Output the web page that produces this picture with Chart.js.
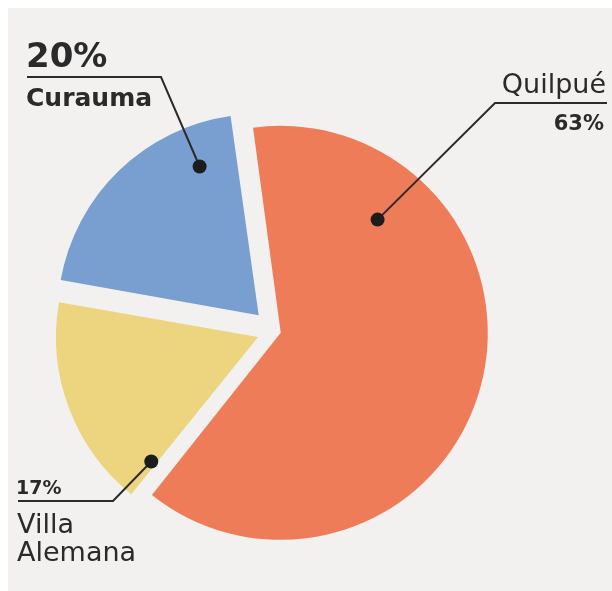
<!DOCTYPE html>
<html>
<head>
<meta charset="utf-8">
<script src="https://cdn.jsdelivr.net/npm/chart.js@4/dist/chart.umd.min.js"></script>
<style>
  html, body { margin: 0; padding: 0; background: #ffffff; }
  #wrap { position: relative; width: 612px; height: 591px; }
</style>
</head>
<body>
<div id="wrap"><canvas id="c" width="612" height="591"></canvas></div>
<script>
// ---- data ----
const categories = ['Quilpué', 'Villa Alemana', 'Curauma'];
const shares = [63, 17, 20];
const shareLabels = ['63%', '17%', '20%'];
const sliceColors = ['#ee7c58', '#ecd57e', '#789fd0'];

// ---- label layout (positions only, not data) ----
const labelLayout = [
  { // Quilpué
    f: 0.214, rf: 0.745,
    line: [[607, 103], [495, 103]],
    texts: [
      { t: categories[0], x: 606, y: 93, align: 'right', font: '27px "DejaVu Sans"' },
      { t: shareLabels[0], x: 604, y: 130, align: 'right', font: 'bold 21px "DejaVu Sans"' }
    ]
  },
  { // Villa Alemana
    f: 0.03, rf: 0.82,
    line: [[18, 501], [113, 501]],
    texts: [
      { t: shareLabels[1], x: 16, y: 494, align: 'left', font: 'bold 19px "DejaVu Sans"' },
      { t: 'Villa', x: 17, y: 533, align: 'left', font: '27px "DejaVu Sans"' },
      { t: 'Alemana', x: 17, y: 561, align: 'left', font: '27px "DejaVu Sans"' }
    ]
  },
  { // Curauma
    f: 0.81, rf: 0.8,
    line: [[27, 77], [161, 77]],
    texts: [
      { t: shareLabels[2], x: 26, y: 67, align: 'left', font: 'bold 34px "DejaVu Sans"' },
      { t: categories[2], x: 26, y: 106, align: 'left', font: 'bold 25px "DejaVu Sans"' }
    ]
  }
];

const panelPlugin = {
  id: 'panel',
  beforeDraw(chart) {
    const ctx = chart.ctx;
    ctx.save();
    ctx.fillStyle = '#ffffff';
    ctx.fillRect(0, 0, chart.width, chart.height);
    ctx.fillStyle = '#f2f1f0';
    ctx.fillRect(8, 8, chart.width - 8, chart.height - 8);
    ctx.restore();
  }
};

const calloutPlugin = {
  id: 'callouts',
  afterDraw(chart) {
    const ctx = chart.ctx;
    const meta = chart.getDatasetMeta(0);
    ctx.save();
    meta.data.forEach((arc, i) => {
      const L = labelLayout[i];
      const p = arc.getProps(['x', 'y', 'startAngle', 'endAngle', 'outerRadius'], true);
      const off = (arc.options.offset || 0) / 4;
      const half = (p.startAngle + p.endAngle) / 2;
      const cx = p.x + Math.cos(half) * off;
      const cy = p.y + Math.sin(half) * off;
      const a = p.startAngle + L.f * (p.endAngle - p.startAngle);
      const r = L.rf * p.outerRadius;
      const dx = cx + Math.cos(a) * r;
      const dy = cy + Math.sin(a) * r;

      ctx.strokeStyle = '#2b2b2b';
      ctx.lineWidth = 2;
      ctx.beginPath();
      ctx.moveTo(L.line[0][0], L.line[0][1]);
      ctx.lineTo(L.line[1][0], L.line[1][1]);
      ctx.lineTo(dx, dy);
      ctx.stroke();

      ctx.fillStyle = '#1c1c1c';
      ctx.beginPath();
      ctx.arc(dx, dy, 7, 0, Math.PI * 2);
      ctx.fill();

      ctx.fillStyle = '#2a2a2a';
      ctx.textBaseline = 'alphabetic';
      L.texts.forEach(tx => {
        ctx.font = tx.font;
        ctx.textAlign = tx.align;
        ctx.fillText(tx.t, tx.x, tx.y);
      });
    });
    ctx.restore();
  }
};

new Chart(document.getElementById('c'), {
  type: 'pie',
  data: {
    labels: categories,
    datasets: [{
      data: shares,
      backgroundColor: sliceColors,
      borderWidth: 0,
      offset: [28, 68, 88],
      hoverOffset: 0
    }]
  },
  options: {
    responsive: false,
    animation: false,
    rotation: -8,
    radius: 200,
    layout: { padding: { left: 0, right: 64, top: 71, bottom: 0 } },
    plugins: {
      legend: { display: false },
      tooltip: { enabled: false },
      title: { display: false }
    },
    events: []
  },
  plugins: [panelPlugin, calloutPlugin]
});
</script>
</body>
</html>
